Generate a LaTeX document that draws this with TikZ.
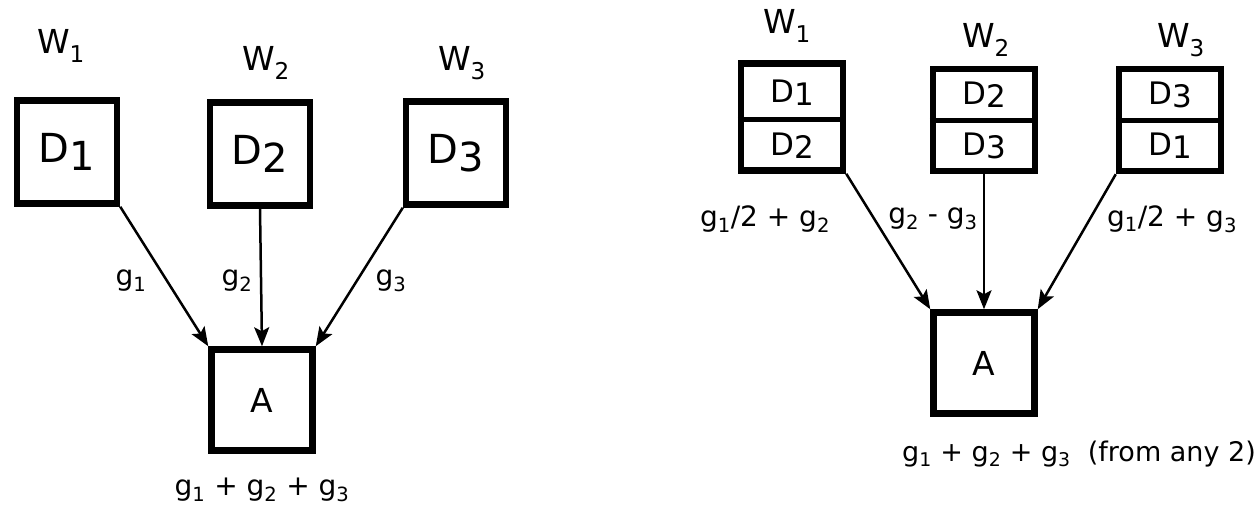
\documentclass[tikz,border=0pt]{standalone}
\usepackage{fontspec}
\setmainfont{DejaVu Sans}
\usetikzlibrary{arrows.meta,calc}
\newcommand{\fs}[1]{\fontsize{#1}{#1}\selectfont}
\newcommand{\dd}[2]{D\raisebox{#2}{#1}}
\begin{document}
\begin{tikzpicture}[x=1pt,y=-1pt,
  bigbox/.style={draw,line width=6.5pt,minimum width=100pt,minimum height=103pt,inner sep=0pt,font=\fs{40}},
  abox/.style={draw,line width=6.5pt,minimum width=101pt,minimum height=101pt,inner sep=0pt,font=\fs{33}},
  twobox/.style={draw,line width=6.5pt,minimum width=102pt,minimum height=#1,inner sep=0pt},
  cell/.style={inner sep=0pt,font=\fs{31}},
  wlab/.style={inner sep=0pt,font=\fs{33}},
  glab/.style={inner sep=0pt,font=\fs{28}},
  conn/.style={line width=2.5pt,-{Stealth[length=19pt,width=15pt,inset=4pt]}},
  divider/.style={line width=5pt}]
\useasboundingbox (0,0) rectangle (1258,506);
% ---------- left ----------
\node[wlab] (lw1) at (61,46) {W\textsubscript{1}};
\node[wlab] (lw2) at (266,63) {W\textsubscript{2}};
\node[wlab] (lw3) at (462,63) {W\textsubscript{3}};
\node[bigbox] (ld1) at (67,152) {\dd{1}{-0.2em}};
\node[bigbox] (ld2) at (260,154) {\dd{2}{-0.2em}};
\node[bigbox] (ld3) at (456,153) {\dd{3}{-0.2em}};
\node[abox] (la) at (262,400) {A};
\draw[conn] (ld1.south east) -- (la.north west);
\draw[conn] (ld2.south) -- (la.north);
\draw[conn] (ld3.south west) -- (la.north east);
\node[glab] (lg1) at (131,281) {g\textsubscript{1}};
\node[glab] (lg2) at (237,281) {g\textsubscript{2}};
\node[glab] (lg3) at (391,281) {g\textsubscript{3}};
\node[glab] (lsum) at (262,490) {g\textsubscript{1} + g\textsubscript{2} + g\textsubscript{3}};
% ---------- right ----------
\node[wlab] (rw1) at (787,26) {W\textsubscript{1}};
\node[wlab] (rw2) at (986,40) {W\textsubscript{2}};
\node[wlab] (rw3) at (1181,40) {W\textsubscript{3}};
\node[twobox=107pt] (r1) at (792,117) {};
\node[twobox=102pt] (r2) at (984,120) {};
\node[twobox=102pt] (r3) at (1170,120) {};
\draw[divider] (r1.west |- 0,119) coordinate (r1l) -- (r1.east |- 0,119) coordinate (r1r);
\draw[divider] (r2.west |- 0,120) coordinate (r2l) -- (r2.east |- 0,120) coordinate (r2r);
\draw[divider] (r3.west |- 0,120) coordinate (r3l) -- (r3.east |- 0,120) coordinate (r3r);
\node[cell] (c11) at (792,93) {\dd{1}{-0.1em}};
\node[cell] (c12) at (792,146) {\dd{2}{-0.1em}};
\node[cell] (c21) at (984,95) {\dd{2}{-0.1em}};
\node[cell] (c22) at (984,146) {\dd{3}{-0.1em}};
\node[cell] (c31) at (1170,95) {\dd{3}{-0.1em}};
\node[cell] (c32) at (1170,146) {\dd{1}{-0.1em}};
\node[abox] (ra) at (984,363) {A};
\draw[conn] (r1.south east) -- (ra.north west);
\draw[conn] (r2.south) -- (ra.north);
\draw[conn] (r3.south west) -- (ra.north east);
\node[glab] (rg1) at (765,219) {g\textsubscript{1}/2 + g\textsubscript{2}};
\node[glab] (rg2) at (933,219) {g\textsubscript{2} - g\textsubscript{3}};
\node[glab] (rg3) at (1172,219) {g\textsubscript{1}/2 + g\textsubscript{3}};
\node[glab,anchor=east,font=\fs{27}] (rsum) at (1256,454) {g\textsubscript{1} + g\textsubscript{2} + g\textsubscript{3}\ \ (from any 2)};
\end{tikzpicture}
\end{document}
